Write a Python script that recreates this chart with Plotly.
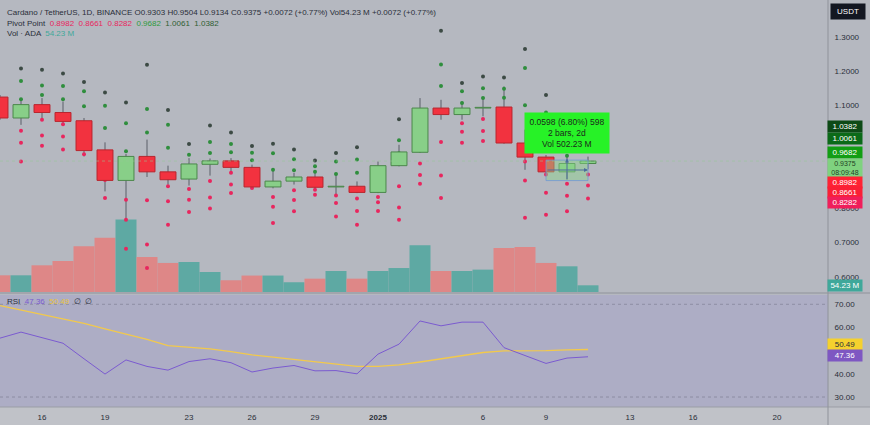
import plotly.graph_objects as go
import pandas as pd

# ---------------- data ----------------
dates = ["2024-12-14", "2024-12-15", "2024-12-16", "2024-12-17", "2024-12-18", "2024-12-19",
         "2024-12-20", "2024-12-21", "2024-12-22", "2024-12-23", "2024-12-24", "2024-12-25",
         "2024-12-26", "2024-12-27", "2024-12-28", "2024-12-29", "2024-12-30", "2024-12-31",
         "2025-01-01", "2025-01-02", "2025-01-03", "2025-01-04", "2025-01-05", "2025-01-06",
         "2025-01-07", "2025-01-08", "2025-01-09", "2025-01-10", "2025-01-11"]

opens = [1.124, 1.063, 1.102, 1.079, 1.055, 0.970, 0.881, 0.951, 0.906, 0.885, 0.928, 0.938,
         0.919, 0.862, 0.879, 0.891, 0.862, 0.864, 0.846, 0.924, 0.963, 1.092, 1.073, 1.092,
         1.095, 0.990, 0.949, 0.906, 0.9303]
highs = [1.130, 1.118, 1.121, 1.111, 1.063, 0.992, 0.958, 1.000, 0.924, 0.946, 0.945, 0.946,
         0.927, 0.912, 0.903, 0.907, 0.903, 0.878, 0.936, 0.985, 1.121, 1.116, 1.111, 1.123,
         1.155, 1.029, 0.955, 0.956, 0.9504]
lows = [1.058, 1.043, 1.055, 1.043, 0.951, 0.849, 0.766, 0.891, 0.869, 0.866, 0.895, 0.907,
        0.856, 0.858, 0.869, 0.854, 0.834, 0.844, 0.844, 0.922, 0.961, 1.058, 1.058, 1.068,
        0.988, 0.912, 0.895, 0.883, 0.9134]
closes = [1.063, 1.102, 1.079, 1.053, 0.968, 0.881, 0.951, 0.906, 0.883, 0.929, 0.938, 0.919,
          0.862, 0.879, 0.891, 0.861, 0.864, 0.846, 0.924, 0.964, 1.092, 1.073, 1.092, 1.094,
          0.990, 0.949, 0.906, 0.9303, 0.9375]
volumes_m = [135, 135, 216, 251, 370, 440, 586, 283, 235, 243, 162, 95, 133, 133, 79, 108,
             170, 108, 170, 194, 378, 170, 170, 181, 356, 364, 235, 208, 54.23]

pivot_r3 = [None, 1.207, 1.204, 1.193, 1.168, 1.137, 1.108, 1.218, 1.086, 0.987, 1.041, 1.021,
            0.981, 0.988, 0.971, 0.939, 0.961, 0.978, 0.902, 1.059, 1.055, 1.317, 1.165, 1.184,
            1.181, 1.264, 1.130, 1.035, 1.0382]
pivot_r2 = [None, 1.171, 1.158, 1.156, 1.141, 1.099, 1.048, 1.089, 1.043, 0.956, 0.993, 0.987,
            0.962, 0.960, 0.943, 0.922, 0.936, 0.942, 0.890, 0.998, 1.020, 1.219, 1.141, 1.150,
            1.148, 1.209, 1.079, 0.995, 1.0061]
pivot_r1 = [None, 1.118, 1.130, 1.118, 1.097, 1.034, 0.966, 1.021, 0.976, 0.918, 0.961, 0.963,
            0.940, 0.912, 0.911, 0.906, 0.900, 0.903, 0.868, 0.960, 0.992, 1.156, 1.107, 1.121,
            1.122, 1.100, 1.012, 0.953, 0.9682]
pivot_s1 = [None, 1.026, 1.058, 1.045, 1.027, 0.925, 0.825, 0.823, 0.864, 0.856, 0.879, 0.903,
            0.902, 0.833, 0.852, 0.873, 0.837, 0.828, 0.833, 0.864, 0.930, 0.993, 1.048, 1.060,
            1.067, 0.936, 0.898, 0.871, 0.8982]
pivot_s2 = [None, 0.991, 1.012, 1.009, 1.001, 0.882, 0.766, 0.694, 0.820, 0.825, 0.831, 0.869,
            0.885, 0.804, 0.824, 0.854, 0.815, 0.792, 0.817, 0.802, 0.897, 0.895, 1.023, 1.025,
            1.040, 0.881, 0.845, 0.836, 0.8661]
pivot_s3 = [None, 0.936, 0.982, 0.971, 0.957, 0.830, 0.682, 0.626, 0.752, 0.789, 0.799, 0.844,
            0.859, 0.757, 0.791, 0.839, 0.776, 0.752, 0.792, 0.766, 0.871, 0.830, 0.991, 0.996,
            1.012, 0.772, 0.781, 0.791, 0.8282]

rsi = [55.4, 58.0, 55.6, 53.2, 46.5, 39.9, 46.0, 43.2, 41.6, 45.3, 46.5, 44.8, 40.8, 42.5,
       43.6, 41.3, 41.4, 40.0, 48.5, 52.8, 62.8, 60.7, 62.3, 62.3, 51.3, 47.9, 44.5, 46.8, 47.36]
rsi_ma = [69.4, 67.5, 65.8, 64.0, 61.8, 59.4, 57.2, 54.9, 52.2, 51.5, 50.8, 49.6, 48.2, 47.2,
          46.2, 44.9, 43.9, 43.2, 43.2, 43.9, 45.1, 46.5, 47.8, 49.2, 49.9, 49.9, 50.0, 50.3, 50.49]

x_tick_dates = ["2024-12-16", "2024-12-19", "2024-12-23", "2024-12-26", "2024-12-29",
                "2025-01-01", "2025-01-06", "2025-01-09", "2025-01-13", "2025-01-16", "2025-01-20"]
x_tick_labels = ["16", "19", "23", "26", "29", "<b>2025</b>", "6", "9", "13", "16", "20"]
price_ticks = [0.6, 0.7, 0.8, 1.1, 1.2, 1.3]
rsi_ticks = [30, 40, 60, 70]

last_price = 0.9375
last_volume = 54.23
last_rsi = 47.36
last_rsi_ma = 50.49

# ---------------- geometry ----------------
W, H = 870, 425
ML, MR, MT, MB = 0, 42, 0, 18
PW, PH = W - ML - MR, H - MT - MB      # 828 x 407
DAY_PX = 21.0
PRICE_BOTTOM_PX = 292                  # bottom of price/volume pane
RSI_TOP_PX = 295
price_dom = [(PH - PRICE_BOTTOM_PX) / PH, 1.0]
rsi_dom = [0.0, (PH - RSI_TOP_PX) / PH]

x_start = pd.Timestamp("2024-12-14")
x_end = x_start + pd.Timedelta(days=PW / DAY_PX)
price_range = [0.5557, 1.407]
vol_range = [0, 2363]
rsi_range = [25.7, 74.0]

def px(xp):
    return xp / PW

def py(yp):
    return 1 - yp / PH

# ---------------- colours ----------------
BG = "#b5b8c0"
UP_FILL, UP_LINE = "#88cf88", "#4b874b"
DN_FILL, DN_LINE = "#f2323f", "#b8262f"
VOL_UP, VOL_DN = "#5ea9a3", "#de8787"
WICK = "#5b5e68"
R3_C, R_C, S_C = "#3c4a44", "#2f8e3d", "#e8265e"
TXT = "#2a2e39"

up = [c >= o for o, c in zip(opens, closes)]
day_ms = 86400000

fig = go.Figure()

# volume (base axis)
fig.add_trace(go.Bar(
    x=dates, y=volumes_m, width=day_ms,
    marker=dict(color=[VOL_UP if u else VOL_DN for u in up], line=dict(width=0)),
    yaxis="y", xaxis="x", hoverinfo="skip"))

# wicks + pivot dots (overlay 1)
wx, wy = [], []
for d, lo, hi in zip(dates, lows, highs):
    wx += [d, d, None]
    wy += [lo, hi, None]
fig.add_trace(go.Scatter(x=wx, y=wy, mode="lines", line=dict(color=WICK, width=1),
                         yaxis="y2", hoverinfo="skip"))
for series, col in [(pivot_r3, R3_C), (pivot_r2, R_C), (pivot_r1, R_C),
                    (pivot_s1, S_C), (pivot_s2, S_C), (pivot_s3, S_C)]:
    fig.add_trace(go.Scatter(x=dates, y=series, mode="markers",
                             marker=dict(color=col, size=4, line=dict(width=0)),
                             yaxis="y2", hoverinfo="skip"))

# candle bodies (overlay 2)
fig.add_trace(go.Bar(
    x=dates,
    base=[min(o, c) for o, c in zip(opens, closes)],
    y=[max(abs(c - o), 0.0015) for o, c in zip(opens, closes)],
    width=0.76 * day_ms,
    marker=dict(color=[UP_FILL if u else DN_FILL for u in up],
                line=dict(color=[UP_LINE if u else DN_LINE for u in up], width=1)),
    yaxis="y3", hoverinfo="skip"))

# RSI
fig.add_trace(go.Scatter(x=dates, y=rsi_ma, mode="lines", line=dict(color="#f2c94c", width=1.3),
                         xaxis="x", yaxis="y4", hoverinfo="skip"))
fig.add_trace(go.Scatter(x=dates, y=rsi, mode="lines", line=dict(color="#7b5bd0", width=1),
                         xaxis="x", yaxis="y4", hoverinfo="skip"))

font_family = "Liberation Sans, Arial, sans-serif"

fig.update_layout(
    width=W, height=H, margin=dict(l=ML, r=MR, t=MT, b=MB),
    paper_bgcolor=BG, plot_bgcolor=BG, showlegend=False, barmode="overlay",
    font=dict(family=font_family, size=8, color=TXT),
    hovermode=False,
    xaxis=dict(type="date", range=[x_start, x_end], domain=[0, 1], anchor="y4",
               tickvals=x_tick_dates, ticktext=x_tick_labels, showgrid=False, zeroline=False,
               showline=False, ticks="outside", ticklen=2, tickcolor="rgba(0,0,0,0)",
               tickfont=dict(size=8, color=TXT), fixedrange=True),
    yaxis=dict(domain=price_dom, range=vol_range, visible=False, anchor="x", fixedrange=True),
    yaxis2=dict(overlaying="y", range=price_range, visible=False, anchor="x"),
    yaxis3=dict(overlaying="y", range=price_range, anchor="x", side="right",
                tickvals=price_ticks, ticktext=[f"{v:.4f}" for v in price_ticks],
                showgrid=False, zeroline=False, showline=False, ticks="outside", ticklen=4,
                tickcolor="rgba(0,0,0,0)", tickfont=dict(size=8, color=TXT)),
    yaxis4=dict(domain=rsi_dom, range=rsi_range, anchor="x", side="right",
                tickvals=rsi_ticks, ticktext=[f"{v:.2f}" for v in rsi_ticks],
                showgrid=False, zeroline=False, showline=False, ticks="outside", ticklen=4,
                tickcolor="rgba(0,0,0,0)", tickfont=dict(size=8, color=TXT)),
)

shapes = []
# RSI pane tint
shapes.append(dict(type="rect", xref="x domain", yref="y4 domain", x0=0, x1=1, y0=0, y1=1,
                   fillcolor="#adadc5", line=dict(width=0), layer="below"))
# bottom strip
shapes.append(dict(type="rect", xref="paper", yref="paper", x0=0, x1=W / PW, y0=-MB / PH, y1=0,
                   fillcolor="#c0c2c8", line=dict(width=0), layer="below"))
# RSI 70 / 30 dotted
for lvl in (70, 30):
    shapes.append(dict(type="line", xref="x domain", yref="y4", x0=0, x1=1, y0=lvl, y1=lvl,
                       line=dict(color="#8d8da3", width=1, dash="dot")))
# pane separator / borders
shapes.append(dict(type="line", xref="paper", yref="paper", x0=0, x1=W / PW,
                   y0=py(PRICE_BOTTOM_PX + 1), y1=py(PRICE_BOTTOM_PX + 1),
                   line=dict(color="#8f929a", width=1)))
shapes.append(dict(type="line", xref="paper", yref="paper", x0=0, x1=W / PW, y0=0, y1=0,
                   line=dict(color="#9a9da5", width=1)))
shapes.append(dict(type="line", xref="paper", yref="paper", x0=1, x1=1, y0=-MB / PH, y1=1,
                   line=dict(color="#8f929a", width=1)))
# current price line
shapes.append(dict(type="line", xref="x domain", yref="y3", x0=0, x1=1, y0=last_price,
                   y1=last_price, line=dict(color="rgba(150,200,150,0.55)", width=1, dash="dot")))
# measurement box
shapes.append(dict(type="rect", xref="x", yref="y3", x0="2025-01-09", x1="2025-01-11",
                   y0=0.8805, y1=0.9403, fillcolor="rgba(140,212,140,0.45)",
                   line=dict(color="rgba(110,150,215,0.75)", width=1), layer="above"))
fig.update_layout(shapes=shapes)

ann = []
# top-left legend
ann.append(dict(xref="paper", yref="paper", x=px(5), y=py(12.5), xanchor="left", yanchor="middle",
                showarrow=False, font=dict(size=8, color=TXT),
                text="Cardano / TetherUS, 1D, BINANCE O0.9303 H0.9504 L0.9134 C0.9375 "
                     "+0.0072 (+0.77%) Vol54.23 M +0.0072 (+0.77%)"))
ann.append(dict(xref="paper", yref="paper", x=px(5), y=py(23.5), xanchor="left", yanchor="middle",
                showarrow=False, font=dict(size=8, color=TXT),
                text="Pivot Point  <span style='color:#e8265e'>0.8982  0.8661  0.8282</span>  "
                     "<span style='color:#2f9a3d'>0.9682</span>  "
                     "<span style='color:#2f5e33'>1.0061  1.0382</span>"))
ann.append(dict(xref="paper", yref="paper", x=px(5), y=py(33.5), xanchor="left", yanchor="middle",
                showarrow=False, font=dict(size=8, color=TXT),
                text="Vol · ADA  <span style='color:#3fa89a'>54.23 M</span>"))
ann.append(dict(xref="paper", yref="paper", x=px(5), y=py(301.5), xanchor="left", yanchor="middle",
                showarrow=False, font=dict(size=8, color=TXT),
                text="RSI  <span style='color:#7b5bd0'>47.36</span>  "
                     "<span style='color:#e8c23a'>50.49</span>  ∅  ∅"))

# USDT badge
ann.append(dict(xref="paper", yref="paper", x=px(848), y=py(11.5), xanchor="center",
                yanchor="middle", showarrow=False, text="USDT", bgcolor="#131722",
                font=dict(size=8, color="#ffffff"), borderpad=3, width=28))

# right axis badges
def badge(yref, val, text, bg, fg, yshift=0, height=9):
    return dict(xref="paper", yref=yref, x=1, y=val, xanchor="left", yanchor="middle",
                xshift=-1, yshift=yshift, showarrow=False, text=text, bgcolor=bg,
                font=dict(size=8, color=fg), width=32, height=height, borderpad=1, align="center")

ann.append(badge("y3", pivot_r3[-1], f"{pivot_r3[-1]:.4f}", "#0d4a16", "#ffffff", 0))
ann.append(badge("y3", pivot_r2[-1], f"{pivot_r2[-1]:.4f}", "#0b6a18", "#ffffff", -1))
ann.append(badge("y3", pivot_r1[-1], f"{pivot_r1[-1]:.4f}", "#129e14", "#ffffff", -2))
ann.append(dict(xref="paper", yref="y3", x=1, y=last_price, xanchor="left", yanchor="top",
                xshift=-1, yshift=3, showarrow=False, text=f"{last_price:.4f}<br>08:09:48",
                bgcolor="#7fd27f", font=dict(size=7, color="#1f3f24"), width=32, height=16,
                borderpad=1, align="center"))
ann.append(badge("y3", pivot_s1[-1], f"{pivot_s1[-1]:.4f}", "#ff2233", "#ffffff", -8))
ann.append(badge("y3", pivot_s2[-1], f"{pivot_s2[-1]:.4f}", "#fa1f35", "#ffffff", -7))
ann.append(badge("y3", pivot_s3[-1], f"{pivot_s3[-1]:.4f}", "#f01e5a", "#ffffff", -4))
ann.append(badge("y", last_volume, f"{last_volume:.2f} M", "#3fa89a", "#ffffff", 0))
ann.append(badge("y4", last_rsi_ma, f"{last_rsi_ma:.2f}", "#f5d12e", "#2a2e39", 5))
ann.append(badge("y4", last_rsi, f"{last_rsi:.2f}", "#7e57c2", "#ffffff", 1))

# measurement arrows
ann.append(dict(xref="x", yref="y3", axref="x", ayref="y3", x="2025-01-11", y=0.9114,
                ax="2025-01-09", ay=0.9114, showarrow=True, arrowhead=2, arrowsize=0.8,
                arrowwidth=1, arrowcolor="#4c6c9c", text=""))
ann.append(dict(xref="x", yref="y3", axref="x", ayref="y3", x="2025-01-10", y=0.945,
                ax="2025-01-10", ay=0.8805, showarrow=True, arrowhead=2, arrowsize=0.8,
                arrowwidth=1, arrowcolor="#4c6c9c", text=""))
# measurement tooltip
ann.append(dict(xref="x", yref="y3", x="2025-01-10", y=1.018, xanchor="center", yanchor="middle",
                showarrow=False, text="0.0598 (6.80%) 598<br>2 bars, 2d<br>Vol 502.23 M",
                bgcolor="#27f227", font=dict(size=8.5, color="#1b2a1b"), width=82, height=38,
                borderpad=1, align="center"))
fig.update_layout(annotations=ann)

fig.write_html("out.html", config={"displayModeBar": False, "staticPlot": True},
               post_script="document.body.style.margin='0';document.body.style.padding='0';")
